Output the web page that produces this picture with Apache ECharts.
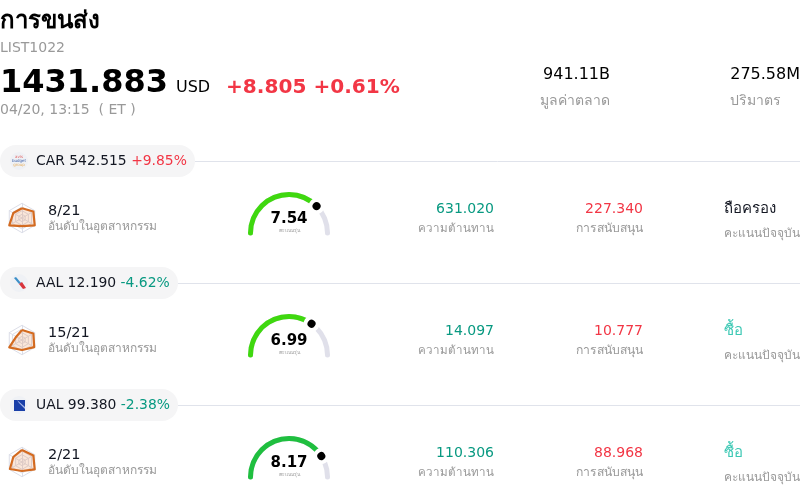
<!DOCTYPE html>
<html>
<head>
<meta charset="utf-8">
<style>
html, body { margin: 0; padding: 0; background: #fff; }
#chart { width: 800px; height: 499px; }
</style>
<script src="https://cdn.jsdelivr.net/npm/echarts@6/dist/echarts.min.js"></script>
</head>
<body>
<div id="chart"></div>
<script>
const tickers = ['CAR', 'AAL', 'UAL'];
const prices = ['542.515', '12.190', '99.380'];
const changes = ['+9.85%', '-4.62%', '-2.38%'];
const ranks = ['8/21', '15/21', '2/21'];
const scores = [7.54, 6.99, 8.17];
const resistances = ['631.020', '14.097', '110.306'];
const supports = ['227.340', '10.777', '88.968'];
const ratings = ['ถือครอง', 'ซื้อ', 'ซื้อ'];
const radarValues = [
    [0.66, 0.68, 1, 0.55, 1, 0.89],
    [0.68, 0.45, 1, 0.68, 0.96, 0.89],
    [0.82, 0.68, 0.95, 0.61, 1, 0.89]
];
const gaugeColors = ['#3fd80f', '#3fd80f', '#1fbf3f'];
const pillWidths = [195, 178, 178];

const RED = '#f23645';
const GREEN = '#089981';
const GREY = '#999999';
const FONT = '"DejaVu Sans", sans-serif';
const ROW_STEP = 122;

function txt(x, y, text, size, color, opts) {
    opts = opts || {};
    return {
        type: 'text',
        x: x,
        y: y,
        silent: true,
        z: 10,
        style: {
            text: text,
            fill: color,
            fontSize: size,
            fontFamily: FONT,
            fontWeight: opts.bold ? 'bold' : 'normal',
            align: opts.align || 'left',
            verticalAlign: 'middle'
        }
    };
}

let graphics = [
    txt(0, 22, 'การขนส่ง', 24, '#000', {bold: true}),
    txt(0, 48, 'LIST1022', 14, GREY),
    txt(0, 84, '1431.883', 32, '#000', {bold: true}),
    txt(176, 88, 'USD', 16, '#000'),
    txt(226, 88, '+8.805 +0.61%', 20.1, RED, {bold: true}),
    txt(0, 110, '04/20, 13:15  ( ET )', 14, GREY),
    txt(610, 75, '941.11B', 16, '#000', {align: 'right'}),
    txt(610, 101, 'มูลค่าตลาด', 14, GREY, {align: 'right'}),
    txt(800, 75, '275.58M', 16, '#000', {align: 'right'}),
    txt(730, 101, 'ปริมาตร', 14, GREY)
];

// tiny company logos, not data
const logos = [
    [
        txt(19, 157, 'avis', 4, '#e06060', {align: 'center'}),
        txt(19, 161, 'budget', 4, '#3a5fa8', {align: 'center'}),
        txt(19, 165, 'group', 4, '#e8b060', {align: 'center'})
    ],
    [
        {type: 'polygon', z: 10, shape: {points: [[14, 278], [16, 277], [21, 283], [19, 284]]}, style: {fill: '#3c8fc8'}},
        {type: 'polygon', z: 10, shape: {points: [[19, 284], [22, 282], [26, 288], [23, 289]]}, style: {fill: '#d8343c'}}
    ],
    [
        {type: 'rect', z: 10, shape: {x: 14, y: 400, width: 11, height: 11}, style: {fill: '#1a3fa8'}},
        {type: 'polygon', z: 11, shape: {points: [[17, 400], [25, 407], [25, 409], [19, 403]]}, style: {fill: '#a8b8e8'}}
    ]
];

let radars = [];
let series = [];

tickers.forEach(function (ticker, i) {
    let dy = i * ROW_STEP;
    let up = changes[i].charAt(0) === '+';
    graphics.push(
        {type: 'line', z: 1, shape: {x1: pillWidths[i], y1: 161.5 + dy, x2: 800, y2: 161.5 + dy}, style: {stroke: '#e0e3eb', lineWidth: 1}},
        {type: 'rect', z: 2, shape: {x: 0, y: 145 + dy, width: pillWidths[i], height: 32, r: 16}, style: {fill: '#f5f5f6'}},
        {type: 'circle', z: 3, shape: {cx: 19, cy: 161 + dy, r: 9}, style: {fill: '#eff1f5'}}
    );
    graphics = graphics.concat(logos[i]);

    let head = txt(36, 161.5 + dy, '', 13.9, '#131722');
    head.style.text = ticker + ' ' + prices[i] + ' {c|' + changes[i] + '}';
    head.style.rich = {c: {fill: up ? RED : GREEN, fontSize: 13.9, fontFamily: FONT}};
    graphics.push(
        head,
        txt(48, 211 + dy, ranks[i], 14.5, '#131722'),
        txt(48, 227 + dy, 'อันดับในอุตสาหกรรม', 12, GREY),
        txt(494, 209 + dy, resistances[i], 14, GREEN, {align: 'right'}),
        txt(494, 229 + dy, 'ความต้านทาน', 11.6, GREY, {align: 'right'}),
        txt(643, 209 + dy, supports[i], 14, RED, {align: 'right'}),
        txt(643, 229 + dy, 'การสนับสนุน', 12.2, GREY, {align: 'right'}),
        txt(724, 209 + dy, ratings[i], 15, ratings[i] === 'ซื้อ' ? '#3cc8b4' : '#131722'),
        txt(724, 234 + dy, 'คะแนนปัจจุบัน', 12, GREY)
    );

    radars.push({
        center: [22, 218 + dy],
        radius: 14.7,
        startAngle: 90,
        indicator: radarValues[i].map(function () {
            return {name: '', min: 0, max: 1};
        }),
        splitNumber: 4,
        axisName: {show: false},
        axisLine: {lineStyle: {color: '#dcdee8', width: 1}},
        splitLine: {lineStyle: {color: '#dcdee8', width: 1}},
        splitArea: {show: false}
    });
    series.push({
        type: 'radar',
        radarIndex: i,
        symbol: 'none',
        animation: false,
        silent: true,
        lineStyle: {color: '#d2691e', width: 2.2},
        areaStyle: {color: 'rgba(230,130,60,0.28)'},
        data: [{value: radarValues[i]}]
    });

    series.push({
        type: 'gauge',
        center: [289, 233 + dy],
        radius: 41,
        startAngle: 180,
        endAngle: 0,
        min: 0,
        max: 10,
        animation: false,
        silent: true,
        axisLine: {roundCap: true, lineStyle: {width: 5, color: [[1, '#e0e0ea']]}},
        progress: {show: true, roundCap: true, width: 5, itemStyle: {color: gaugeColors[i]}},
        axisTick: {show: false},
        splitLine: {show: false},
        axisLabel: {show: false},
        pointer: {show: false},
        anchor: {show: false},
        title: {offsetCenter: [0, -2], fontSize: 5, color: GREY, fontFamily: FONT},
        detail: {
            offsetCenter: [0, -14],
            fontSize: 15,
            fontWeight: 'bold',
            color: '#000',
            fontFamily: FONT,
            formatter: function (v) { return v.toFixed(2); }
        },
        data: [{value: scores[i], name: 'คะแนนรุ่น'}]
    });
    // dot sits above the arc, so it needs its own series
    series.push({
        type: 'gauge',
        z: 5,
        center: [289, 233 + dy],
        radius: 41,
        startAngle: 180,
        endAngle: 0,
        min: 0,
        max: 10,
        animation: false,
        silent: true,
        axisLine: {show: false},
        axisTick: {show: false},
        splitLine: {show: false},
        axisLabel: {show: false},
        anchor: {show: false},
        title: {show: false},
        detail: {show: false},
        pointer: {icon: 'circle', width: 12, length: 12, offsetCenter: [0, -32.5], itemStyle: {color: '#000', borderColor: '#fff', borderWidth: 4}},
        data: [{value: scores[i]}]
    });
});

let chart = echarts.init(document.getElementById('chart'), null, {renderer: 'canvas'});
chart.setOption({
    backgroundColor: '#ffffff',
    animation: false,
    textStyle: {fontFamily: FONT},
    radar: radars,
    series: series,
    graphic: {elements: graphics}
});
</script>
</body>
</html>
